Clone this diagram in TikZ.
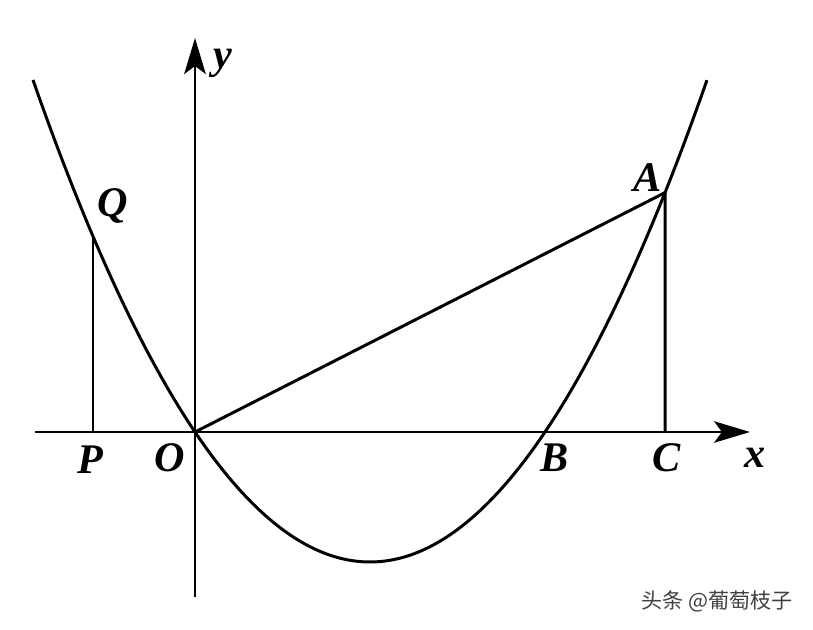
\documentclass[tikz,border=0pt]{standalone}
\usepackage{fontspec}
\setmainfont{Liberation Serif}
\newfontfamily\cjk{Noto Sans CJK SC}
\usetikzlibrary{arrows.meta}
\newcommand{\myAxes}{%%
  %% Draw the axes.
  \draw[axisStyle] (-3.2,0) -- (11.1,0);
  \draw[axisStyle] (0,-3.3) -- (0,7.88);
  \node[labelStyle] (lblx) at (11.2,-0.52) {x};
  \node[labelStyle] (lbly) at (0.56,7.38) {y};
}
\newcommand{\myParabola}{%%
  %% Draw the parabola through O and B.
  \draw[lineStyle] plot[domain=-3.24:10.24,samples=120,smooth]
  (\x,{\k*\x*(\x-7)});
}
\newcommand{\mySegments}{%%
  %% Draw the segments OA, AC and QP.
  \draw[lineStyle] (O) -- (A) -- (C);
  \draw[lineStyle] (Q) -- (P);
  %% Label the points.
  \node[labelStyle] (lblA) at (9.06,5.08) {A};
  \node[labelStyle] (lblB) at (7.2,-0.52) {B};
  \node[labelStyle] (lblC) at (9.44,-0.52) {C};
  \node[labelStyle] (lblO) at (-0.5,-0.52) {O};
  \node[labelStyle] (lblP) at (-2.1,-0.56) {P};
  \node[labelStyle] (lblQ) at (-1.64,4.52) {Q};
}

\begin{document}
\begin{tikzpicture}[%%
  lineStyle/.style={-,line width=1.7pt,line join=round},%%
  axisStyle/.style={-{Stealth[length=7.2mm,width=4.3mm,inset=1.6mm]},line width=1.7pt},%%
  labelStyle/.style={font=\fontsize{24}{26}\selectfont\bfseries\itshape,inner sep=0pt}
]
\useasboundingbox (-3.9,-3.94) rectangle (12.36,8.64);
%%
\pgfmathsetmacro{\k}{0.2122}
\pgfmathsetmacro{\xa}{9.4}
\pgfmathsetmacro{\xq}{-2.04}
\coordinate (O) at (0,0);
\coordinate (B) at (7,0);
\coordinate (A) at (\xa,{\k*\xa*(\xa-7)});
\coordinate (C) at (\xa,0);
\coordinate (Q) at (\xq,{\k*\xq*(\xq-7)});
\coordinate (P) at (\xq,0);
%%
\myAxes
\myParabola
\mySegments
%% Watermark.
\node[text=black!75,font=\cjk\fontsize{12}{14}\selectfont,inner sep=0pt]
  (mark) at (10.44,-3.38) {头条 @葡萄枝子};
\end{tikzpicture}
\end{document}
